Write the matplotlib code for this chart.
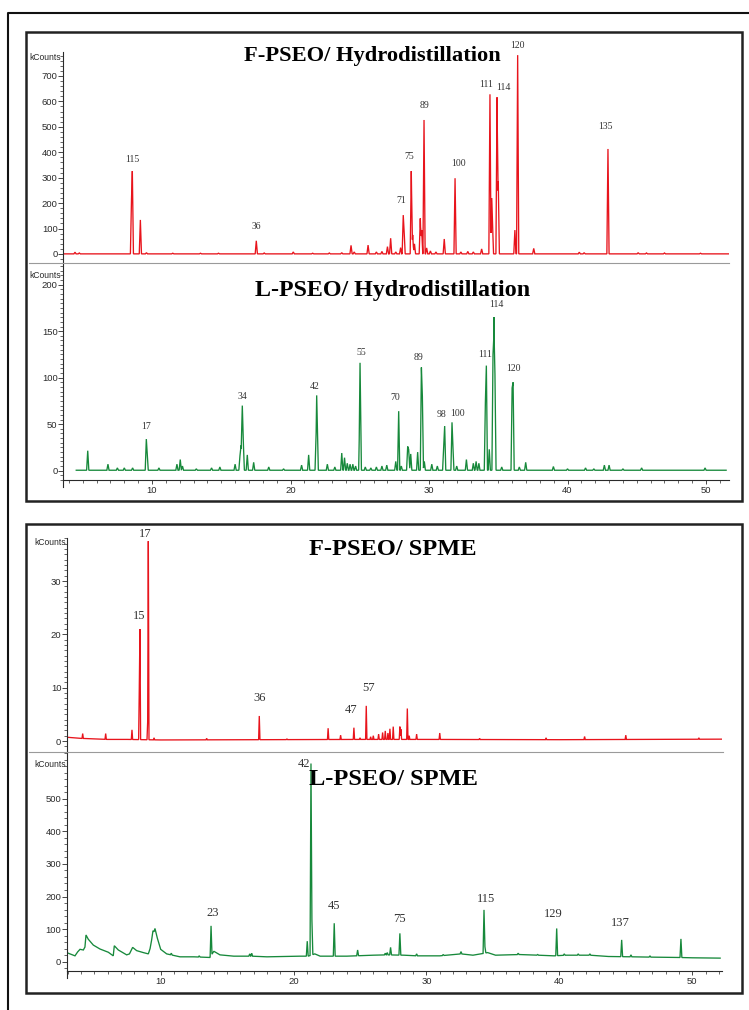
import numpy as np
import matplotlib
matplotlib.use("Agg")
import matplotlib.pyplot as plt
from matplotlib.lines import Line2D
from matplotlib.patches import Rectangle
from matplotlib.ticker import MultipleLocator, FixedLocator

plt.rcParams['font.family'] = ['Liberation Sans', 'DejaVu Sans']

W, H = 749, 1010

# retention time (min) and peak apex (kCounts)
# F-PSEO / hydrodistillation
f_hd_rt = [4.44, 4.75, 8.52, 8.58, 9.16, 9.6, 11.5, 13.5, 14.8, 17.53, 18.1, 20.2, 21.6,
           22.8, 23.7, 24.37, 24.6, 25.6, 26.2, 26.6, 27.0, 27.23, 27.6, 27.95, 28.14,
           28.2, 28.72, 28.82, 28.95, 29.37, 29.47, 29.64, 29.83, 30.1, 30.5, 31.1,
           31.88, 32.3, 32.8, 33.2, 33.8, 34.4, 34.53, 34.58, 34.91, 35.0, 36.2, 36.4,
           37.56, 40.85, 41.2, 42.92, 45.1, 45.7, 47.0, 49.6]
f_hd_h = [7, 4, 215, 326, 134, 5, 3, 3, 3, 52, 4, 8, 3,
          4, 5, 34, 8, 35, 8, 10, 29, 62, 8, 25, 153,
          94, 326, 75, 40, 140, 94, 527, 24, 12, 8, 59,
          298, 8, 10, 8, 20, 628, 220, 127, 616, 285, 94, 782,
          22, 7, 5, 413, 5, 4, 4, 3]
f_hd_base_rt = [3.6, 51.68]
f_hd_base = [0.5, 0.5]
f_hd_lab = ["115", "36", "71", "75", "89", "100", "111", "114", "120", "135"]
f_hd_lab_rt = [8.58, 17.53, 28.14, 28.72, 29.64, 31.88, 34.4, 34.91, 36.4, 42.92]

# L-PSEO / hydrodistillation
l_hd_rt = [5.36, 6.82, 7.5, 8.0, 8.6, 9.59, 9.65, 10.5, 11.8, 12.04, 12.2, 13.2, 14.3,
           14.9, 16.0, 16.35, 16.43, 16.52, 16.59, 16.88, 17.34, 18.43, 19.5, 20.8,
           21.31, 21.85, 21.89, 21.93, 22.66, 23.2, 23.7, 23.9, 24.1, 24.3, 24.5, 24.7,
           25.0, 25.02, 25.04, 25.4, 25.8, 26.2, 26.6, 26.95, 27.6, 27.81, 28.0, 28.46,
           28.53, 28.68, 29.18, 29.45, 29.52, 29.66, 30.2, 30.6, 31.06, 31.13, 31.66,
           31.72, 32.0, 32.7, 33.2, 33.4, 33.6, 34.07, 34.14, 34.35, 34.62, 34.69, 34.76,
           35.25, 36.0, 36.07, 36.52, 36.98, 38.98, 40.0, 41.3, 41.9, 42.66, 43.0, 44.0,
           45.35, 49.93]
l_hd_h = [21.5, 7, 3, 3, 3, 34, 20, 3, 7, 12, 5, 2, 3,
          4, 7, 16, 27, 70, 32, 17, 9, 4, 2, 6,
          17, 40, 81, 55, 7, 4, 19, 14, 8, 7, 7, 5,
          65, 116, 94, 4, 3, 4, 5, 6, 10, 64, 5, 26,
          23, 18, 20, 111, 80, 10, 7, 5, 26, 48, 52,
          28, 5, 12, 8, 10, 8, 74, 113, 23, 125, 165, 104,
          4, 89, 95, 4, 9, 4.5, 2, 3, 2, 6, 6, 2,
          3, 3]
l_hd_base_rt = [4.53, 51.45]
l_hd_base = [0.5, 0.5]
l_hd_lab = ["17", "34", "42", "55", "70", "89", "98", "100", "111", "114", "120"]
l_hd_lab_rt = [9.59, 16.52, 21.89, 25.02, 27.81, 29.45, 31.13, 31.66, 34.14, 34.69, 36.07]

# F-PSEO / SPME
f_sp_rt = [4.13, 5.86, 7.84, 8.39, 8.44, 9.02, 9.07, 9.5, 13.46, 17.42, 19.5, 22.6, 23.54,
           24.54, 25.0, 25.47, 25.8, 26.0, 26.4, 26.7, 26.9, 27.1, 27.25, 27.5, 28.0,
           28.08, 28.56, 28.7, 29.26, 31.0, 34.0, 39.0, 41.9, 45.0, 50.5]
f_sp_h = [1.4, 1.4, 2.1, 10, 21.0, 3.6, 37.5, 0.6, 0.5, 4.7, 0.4, 2.4, 1.1,
          2.5, 0.6, 6.6, 0.8, 1.0, 1.3, 1.6, 1.9, 1.5, 2.3, 2.7, 2.7,
          2.2, 6.1, 1.0, 1.3, 1.5, 0.5, 0.6, 0.85, 1.1, 0.6]
f_sp_base_rt = [2.97, 4.0, 6.0, 7.5, 10.0, 25.0, 30.0, 40.0, 52.2]
f_sp_base = [0.7, 0.5, 0.3, 0.3, 0.2, 0.3, 0.3, 0.25, 0.35]
f_sp_lab = ["15", "17", "36", "47", "57"]
f_sp_lab_rt = [8.44, 9.07, 17.42, 24.54, 25.47]

# L-PSEO / SPME
l_sp_rt = [10.8, 12.9, 13.79, 16.7, 16.85, 21.03, 21.31, 21.38, 23.06, 24.82, 26.9,
           27.05, 27.3, 28.0, 29.26, 31.26, 32.6, 34.33, 34.4, 36.9, 38.37, 39.8,
           40.37, 41.42, 42.3, 44.69, 45.39, 46.82, 49.15]
l_sp_h = [26, 18, 110, 24, 26, 63, 608, 128, 118, 36, 26,
          28, 44, 87, 24, 22, 31, 159, 46, 26, 22, 102,
          24, 24, 24, 67, 21, 18, 70]
l_sp_base_rt = [3.05, 3.3, 3.55, 3.75, 3.93, 4.18, 4.30, 4.38, 4.55, 4.93, 5.43, 6.06,
                6.43, 6.51, 6.81, 7.44, 7.65, 7.89, 8.19, 8.69, 9.07, 9.2, 9.32, 9.42,
                9.5, 9.57, 9.75, 10.0, 10.45, 11.45, 12.5, 13.7, 14.0, 14.46, 15.5,
                16.85, 18.0, 20.5, 21.1, 21.6, 22.0, 24.0, 26.0, 27.0, 28.3, 29.3,
                31.0, 32.6, 33.5, 34.1, 34.6, 35.2, 37.0, 38.4, 39.6, 40.5, 42.3,
                43.7, 45.5, 47.0, 49.0, 50.0, 52.1]
l_sp_base = [26, 22, 18, 30, 38, 36, 45, 82, 69, 51, 39, 29,
             18, 49, 36, 21, 24, 44, 34, 28, 24, 40, 67, 95,
             92, 102, 72, 38, 24, 15, 15, 13, 32, 21, 17,
             17, 15, 17, 17, 24, 17, 17, 20, 21, 20, 18,
             18, 24, 20, 24, 28, 20, 22, 20, 18, 20, 20,
             16, 15, 14, 13, 12, 11]
l_sp_lab = ["23", "42", "45", "75", "115", "129", "137"]
l_sp_lab_rt = [13.79, 21.31, 23.06, 28.0, 34.33, 39.8, 44.69]

RED = '#e8141c'
GREEN = '#17893b'
INK = '#2a2a2a'


def fx(x):
    return x / W


def fy(y):
    return 1 - y / H


def trace(rt, h, base_rt, base_v, hw):
    rt = np.asarray(rt, float)
    h = np.asarray(h, float)
    base_rt = np.asarray(base_rt, float)
    x = np.concatenate([base_rt, rt - hw, rt, rt + hw])
    x = np.unique(x[(x >= base_rt[0]) & (x <= base_rt[-1])])
    b = np.interp(x, base_rt, base_v)
    amp = np.clip(h - np.interp(rt, base_rt, base_v), 0, None)
    bump = np.zeros_like(x)
    for t, a in zip(rt, amp):
        bump = np.maximum(bump, a * np.clip(1 - np.abs(x - t) / hw, 0, None))
    return x, b + bump


def panel(top, bottom, left, right, xlim, ylim, majors, minor, xaxis):
    ax = fig.add_axes([fx(left), fy(bottom), (right - left) / W, (bottom - top) / H])
    ax.set_facecolor('none')
    ax.set_xlim(*xlim)
    ax.set_ylim(*ylim)
    for s in ['top', 'right']:
        ax.spines[s].set_visible(False)
    ax.spines['left'].set_color(INK)
    ax.spines['left'].set_linewidth(0.8)
    ax.yaxis.set_major_locator(FixedLocator(majors))
    ax.yaxis.set_minor_locator(MultipleLocator(minor))
    ax.tick_params(axis='y', which='major', direction='out', length=3.5, width=0.6,
                   labelsize=6.8, pad=0.6, colors=INK)
    ax.tick_params(axis='y', which='minor', direction='out', length=2, width=0.5, colors=INK)
    if xaxis:
        ax.spines['bottom'].set_color(INK)
        ax.spines['bottom'].set_linewidth(0.8)
        ax.xaxis.set_major_locator(MultipleLocator(10))
        ax.xaxis.set_minor_locator(MultipleLocator(1))
        ax.tick_params(axis='x', which='major', direction='out', length=3, width=0.6,
                       labelsize=6.8, pad=1.5, colors=INK)
        ax.tick_params(axis='x', which='minor', direction='out', length=2.5, width=0.5,
                       colors=INK)
        # y axis line runs a little past the time axis
        fig.add_artist(Line2D([fx(left), fx(left)], [fy(bottom), fy(bottom + 7)],
                              color=INK, lw=0.8, transform=fig.transFigure))
    else:
        ax.spines['bottom'].set_visible(False)
        ax.set_xticks([])
    return ax


def draw(ax, rt, h, base_rt, base_v, hw, color, labels, lab_rt, offs, lab_size):
    x, y = trace(rt, h, base_rt, base_v, hw)
    ax.plot(x, y, color=color, lw=0.95, solid_joinstyle='miter')
    rt_arr = np.asarray(rt, float)
    for name, t, (dx, dy) in zip(labels, lab_rt, offs):
        i = int(np.argmin(np.abs(rt_arr - t)))
        ax.annotate(name, (rt[i], h[i]), xytext=(dx, dy), textcoords='offset pixels',
                    ha='center', va='center', fontsize=lab_size,
                    family='Liberation Serif', color='#333333', annotation_clip=False)


fig = plt.figure(figsize=(W / 100, H / 100), dpi=100)

# frames
fig.add_artist(Line2D([fx(8), fx(8), fx(760)], [fy(1020), fy(13), fy(13)],
                      color='#111111', lw=1.5, transform=fig.transFigure))
for top, bottom in [(32, 501), (524, 993)]:
    fig.add_artist(Rectangle((fx(25.5), fy(bottom)), (742 - 25.5) / W, (bottom - top) / H,
                             fill=False, lw=1.8, ec='#222222', transform=fig.transFigure))
for y, x1 in [(263, 729), (752, 723)]:
    fig.add_artist(Line2D([fx(29), fx(x1)], [fy(y), fy(y)], color='#9a9a9a', lw=0.8,
                          transform=fig.transFigure))

# hydrodistillation pair
ax1 = panel(52, 263, 63.3, 729.3, (3.596, 51.68), (-35.4, 794.3),
            [0, 100, 200, 300, 400, 500, 600, 700], 20, False)
draw(ax1, f_hd_rt, f_hd_h, f_hd_base_rt, f_hd_base, 0.08, RED, f_hd_lab, f_hd_lab_rt,
     [(0, 12), (0, 14), (-2, 15), (-2, 15), (0, 14), (3, 15), (-4, 10), (6, 10), (0, 10),
      (-3, 22)], 7)
ax2 = panel(263, 480, 63.3, 729.3, (3.596, 51.68), (-10.0, 223.3),
            [0, 50, 100, 150, 200], 5, True)
draw(ax2, l_hd_rt, l_hd_h, l_hd_base_rt, l_hd_base, 0.08, GREEN, l_hd_lab, l_hd_lab_rt,
     [(0, 13), (0, 9), (-2, 9), (1, 10), (-3, 14), (-3, 10), (-3, 12), (5, 9), (-1, 11),
      (2, 13), (0, 14)], 7)

# SPME pair
ax3 = panel(538.3, 752, 67, 722, (2.95, 52.24), (-2.06, 38.03), [0, 10, 20, 30], 1, False)
draw(ax3, f_sp_rt, f_sp_h, f_sp_base_rt, f_sp_base, 0.05, RED, f_sp_lab, f_sp_lab_rt,
     [(-1, 13), (-3, 7), (0, 18), (-3, 18), (2, 18)], 9)
ax4 = panel(752, 971, 67, 722, (2.95, 52.24), (-28.5, 643.3),
            [0, 100, 200, 300, 400, 500], 20, True)
draw(ax4, l_sp_rt, l_sp_h, l_sp_base_rt, l_sp_base, 0.07, GREEN, l_sp_lab, l_sp_lab_rt,
     [(2, 13), (-7, 0), (0, 17), (0, 14), (2, 11), (-3, 14), (-1, 17)], 9)

# unit labels
for x, y in [(61.5, 53), (61.5, 271.5), (66, 538), (66, 760)]:
    fig.text(fx(x), fy(y), 'kCounts', ha='right', va='top', fontsize=6.2, color=INK)

# panel titles
titles = [("F-PSEO/ Hydrodistillation", 372, 61.5, 16.2),
          ("L-PSEO/ Hydrodistillation", 393, 296, 17.3),
          ("F-PSEO/ SPME", 393, 555, 17.6),
          ("L-PSEO/ SPME", 393.5, 785, 17.6)]
for text, x, y, size in titles:
    fig.text(fx(x), fy(y), text, ha='center', va='baseline', fontsize=size,
             fontweight='bold', family='Liberation Serif', color='black')

fig.savefig('out.png', dpi=100)
